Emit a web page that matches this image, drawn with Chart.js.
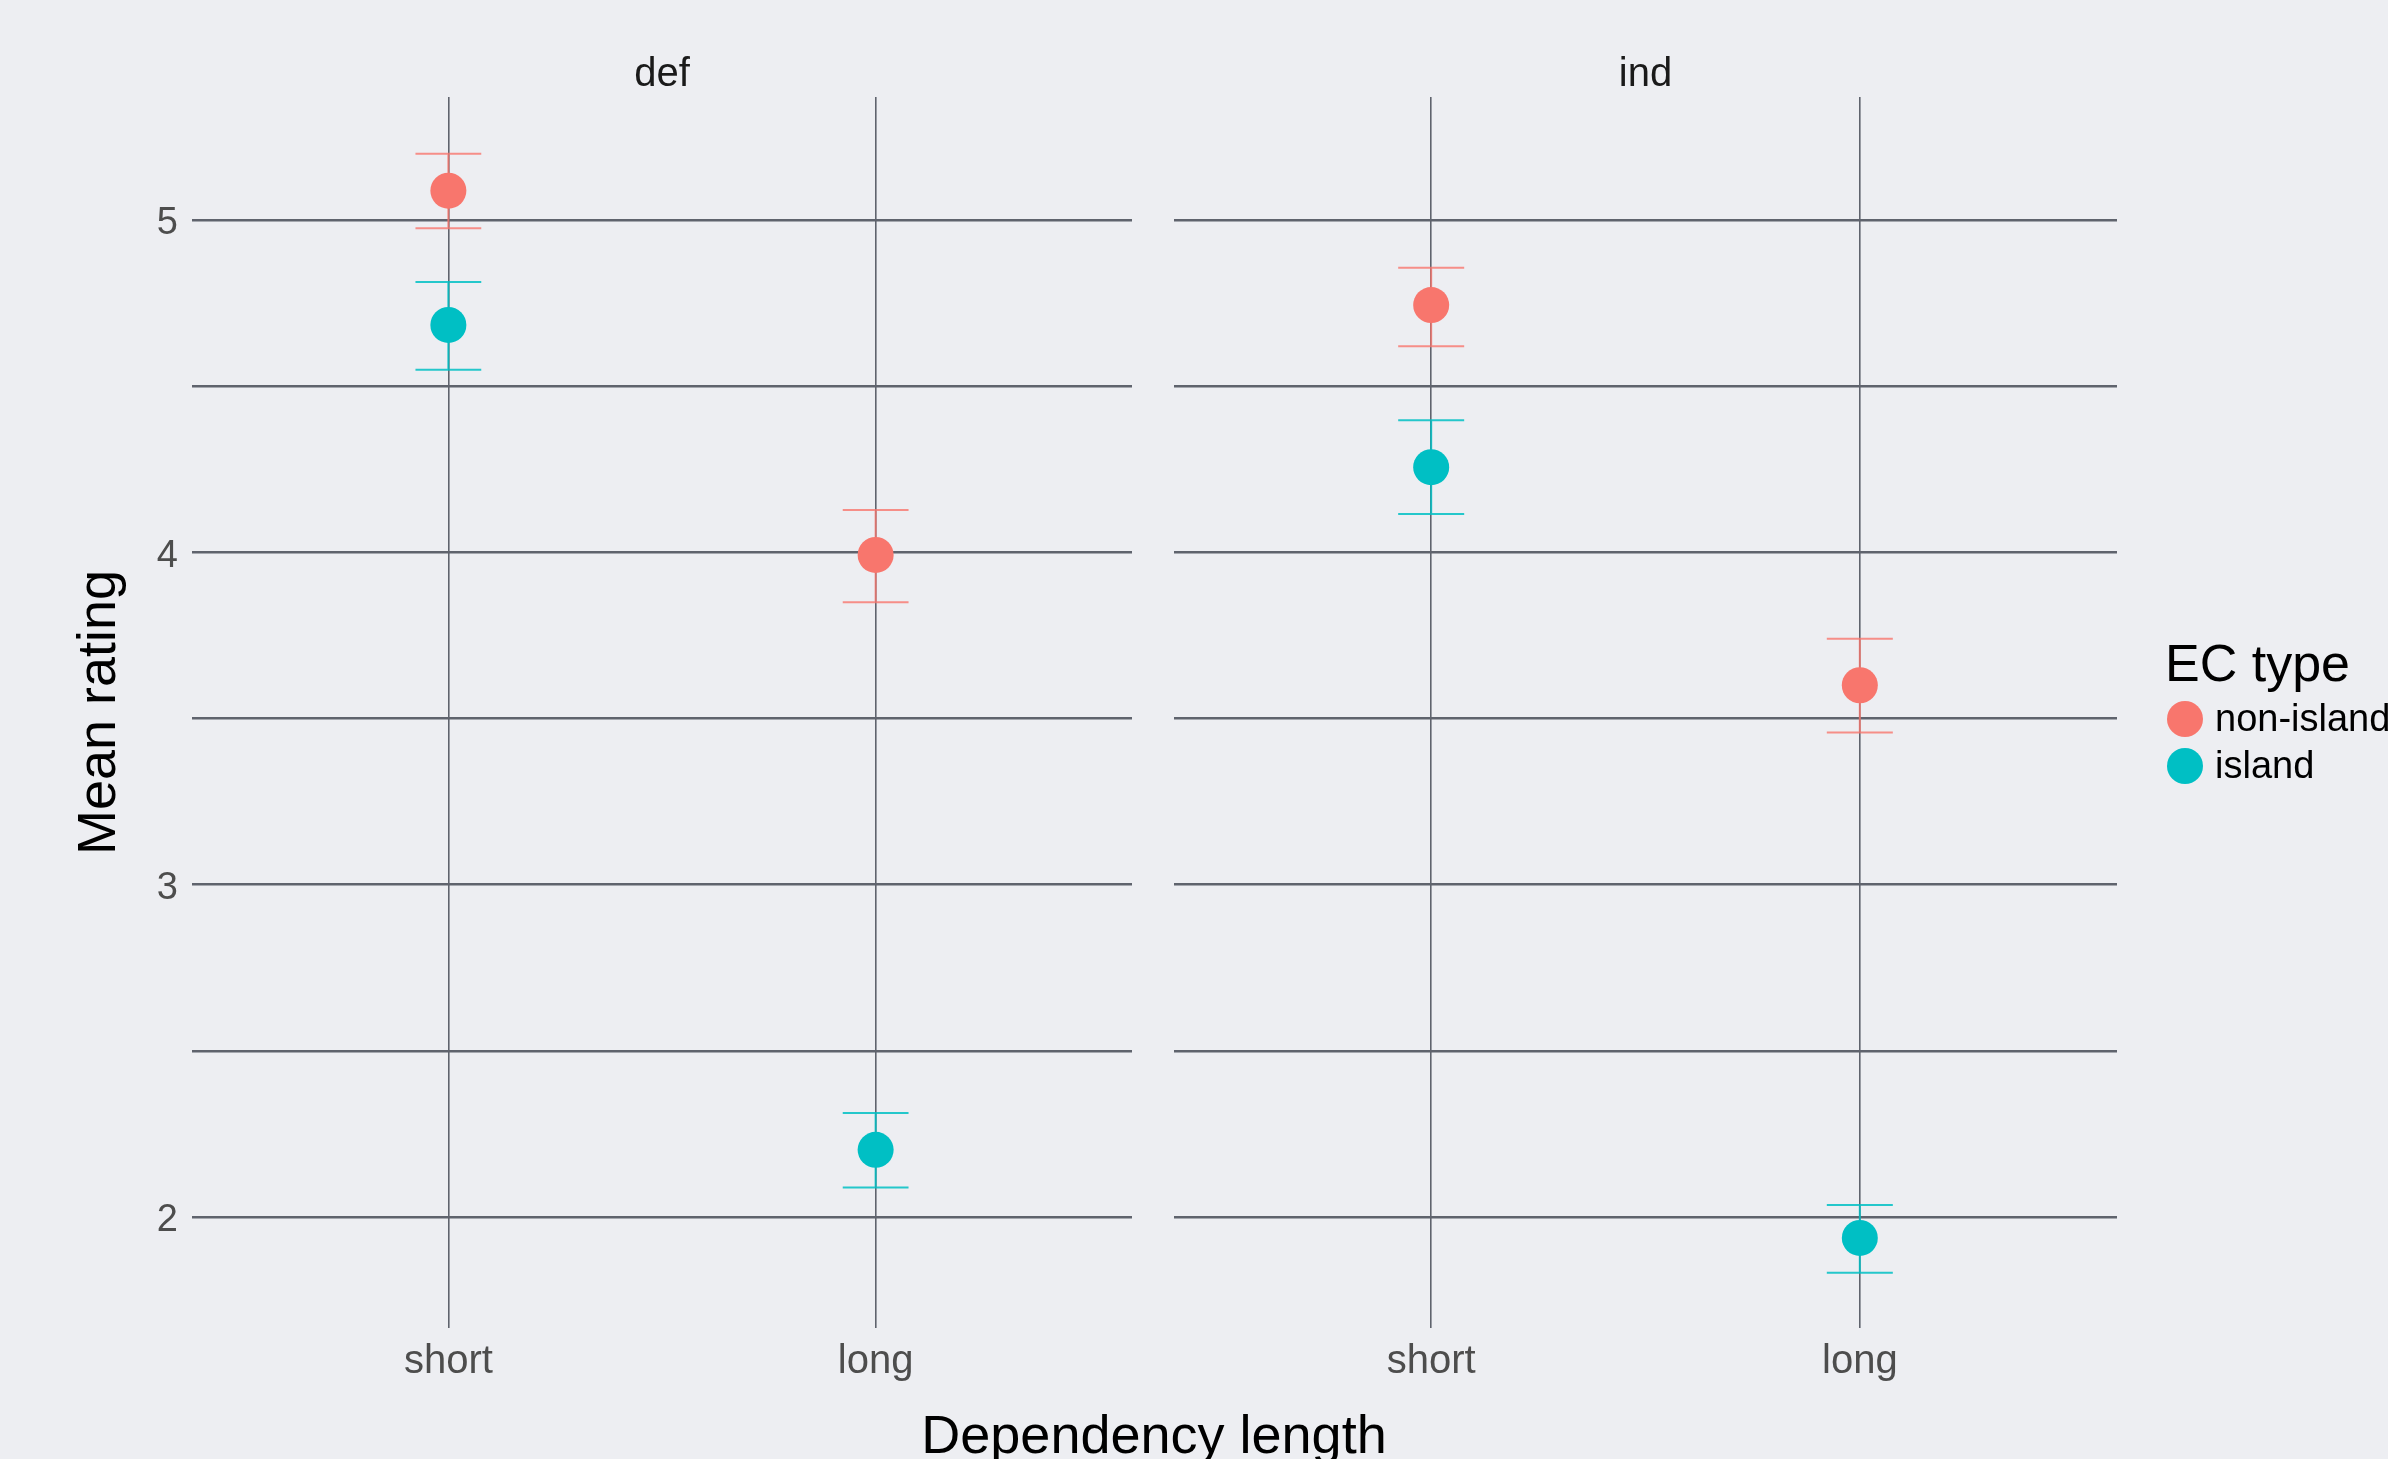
<!DOCTYPE html>
<html>
<head>
<meta charset="utf-8">
<script src="https://cdn.jsdelivr.net/npm/chart.js@4.4.1/dist/chart.umd.min.js"></script>
<style>
  html, body { margin: 0; padding: 0; background: #edeef2; width: 2388px; height: 1459px; overflow: hidden; font-family: "Liberation Sans", Arial, sans-serif; }
  canvas { position: absolute; top: 0; }
  #chartDef { left: 0; }
  #chartInd { left: 1150px; }
  #xTitle { position: absolute; left: 0; top: 1407px; width: 2308px; text-align: center; font-size: 54px; line-height: 54px; color: #000; }
  #legend { position: absolute; left: 2165px; top: 637px; color: #000; white-space: nowrap; }
  #legend .ttl { font-size: 52px; line-height: 52px; }
  #legend .item { position: absolute; left: 50px; font-size: 38px; line-height: 38px; }
  #legend .dot { position: absolute; left: -48px; top: 2px; width: 36px; height: 36px; border-radius: 50%; }
</style>
</head>
<body>
<canvas id="chartDef" width="1150" height="1459"></canvas>
<canvas id="chartInd" width="1238" height="1459"></canvas>
<div id="xTitle">Dependency length</div>
<div id="legend"></div>
<script>
const lengthLabels = ['short', 'long'];
const facetLabels = ['def', 'ind'];
const seriesNames = ['non-island', 'island'];
const seriesColors = ['#F8766D', '#00BFC4'];
const barColors = ['rgba(248, 118, 109, 0.8)', 'rgba(0, 191, 196, 0.85)'];

const defNonIsland = [5.088, 3.992];
const defNonIslandLow = [4.975, 3.850];
const defNonIslandHigh = [5.199, 4.127];
const defIsland = [4.684, 2.202];
const defIslandLow = [4.549, 2.089];
const defIslandHigh = [4.813, 2.313];

const indNonIsland = [4.744, 3.600];
const indNonIslandLow = [4.620, 3.458];
const indNonIslandHigh = [4.856, 3.740];
const indIsland = [4.256, 1.937];
const indIslandLow = [4.115, 1.832];
const indIslandHigh = [4.397, 2.036];

const yTicks = [2, 2.5, 3, 3.5, 4, 4.5, 5];

const gridColor = '#5f636d';
const font = '"Liberation Sans", Arial, sans-serif';

// error bars drawn under the points
const errorBars = {
    id: 'errorBars',
    beforeDatasetsDraw(chart) {
        const ctx = chart.ctx;
        const xs = chart.scales.x, ys = chart.scales.y;
        chart.data.datasets.forEach(ds => {
            ctx.save();
            ctx.strokeStyle = ds.barColor;
            ctx.lineWidth = 2;
            ds.data.forEach((p, i) => {
                const x = xs.getPixelForValue(p.x);
                const x0 = xs.getPixelForValue(p.x - 0.077);
                const x1 = xs.getPixelForValue(p.x + 0.077);
                const yl = ys.getPixelForValue(ds.low[i]);
                const yh = ys.getPixelForValue(ds.high[i]);
                ctx.beginPath();
                ctx.moveTo(x, yl); ctx.lineTo(x, yh);
                ctx.moveTo(x0, yl); ctx.lineTo(x1, yl);
                ctx.moveTo(x0, yh); ctx.lineTo(x1, yh);
                ctx.stroke();
            });
            ctx.restore();
        });
    }
};

// facet strip label centred over the panel
const strip = {
    id: 'strip',
    afterDraw(chart, args, opts) {
        const ctx = chart.ctx, ca = chart.chartArea;
        ctx.save();
        ctx.font = '40px ' + font;
        ctx.fillStyle = '#1a1a1a';
        ctx.textAlign = 'center';
        ctx.textBaseline = 'alphabetic';
        ctx.fillText(opts.text, (ca.left + ca.right) / 2, 86);
        ctx.restore();
    }
};

function makeChart(id, facet, means, lows, highs, showY) {
    const datasets = means.map((m, s) => ({
        label: seriesNames[s],
        data: m.map((v, i) => ({ x: i + 1, y: v })),
        low: lows[s],
        high: highs[s],
        barColor: barColors[s],
        backgroundColor: seriesColors[s],
        borderWidth: 0,
        pointRadius: 18,
        pointHoverRadius: 18
    }));

    return new Chart(document.getElementById(id), {
        type: 'scatter',
        data: { datasets: datasets },
        plugins: [errorBars, strip],
        options: {
            responsive: false,
            animation: false,
            layout: { padding: { left: 0, top: 97, right: showY ? 13 : 271, bottom: 0 } },
            plugins: {
                legend: { display: false },
                tooltip: { enabled: false },
                strip: { text: facet }
            },
            scales: {
                x: {
                    type: 'linear',
                    min: 0.4,
                    max: 2.6,
                    afterBuildTicks: s => { s.ticks = lengthLabels.map((_, i) => ({ value: i + 1 })); },
                    afterFit: s => { s.height = 131; },
                    ticks: {
                        callback: v => lengthLabels[v - 1],
                        font: { family: font, size: 40 },
                        color: '#4d4d4d',
                        padding: 10,
                        maxRotation: 0,
                        autoSkip: false
                    },
                    grid: { color: gridColor, lineWidth: 1.6, drawTicks: false },
                    border: { display: false }
                },
                y: {
                    min: 1.666,
                    max: 5.37,
                    afterBuildTicks: s => { s.ticks = yTicks.map(v => ({ value: v })); },
                    afterFit: s => { s.width = showY ? 192 : 24; },
                    ticks: {
                        display: showY,
                        callback: v => Number.isInteger(v) ? String(v) : '',
                        font: { family: font, size: 38 },
                        color: '#4d4d4d',
                        padding: 14,
                        labelOffset: 4
                    },
                    title: {
                        display: showY,
                        text: 'Mean rating',
                        font: { family: font, size: 54 },
                        color: '#000',
                        padding: { top: 68, bottom: 0 }
                    },
                    grid: { color: gridColor, lineWidth: 2.4, drawTicks: false },
                    border: { display: false }
                }
            }
        }
    });
}

makeChart('chartDef', facetLabels[0],
    [defNonIsland, defIsland], [defNonIslandLow, defIslandLow], [defNonIslandHigh, defIslandHigh], true);
makeChart('chartInd', facetLabels[1],
    [indNonIsland, indIsland], [indNonIslandLow, indIslandLow], [indNonIslandHigh, indIslandHigh], false);

// legend
const legend = document.getElementById('legend');
legend.innerHTML = '<div class="ttl">EC type</div>' + seriesNames.map((n, i) =>
    '<div class="item" style="top:' + (62 + i * 46.5) + 'px"><span class="dot" style="background:' +
    seriesColors[i] + '"></span>' + n + '</div>').join('');
</script>
</body>
</html>
